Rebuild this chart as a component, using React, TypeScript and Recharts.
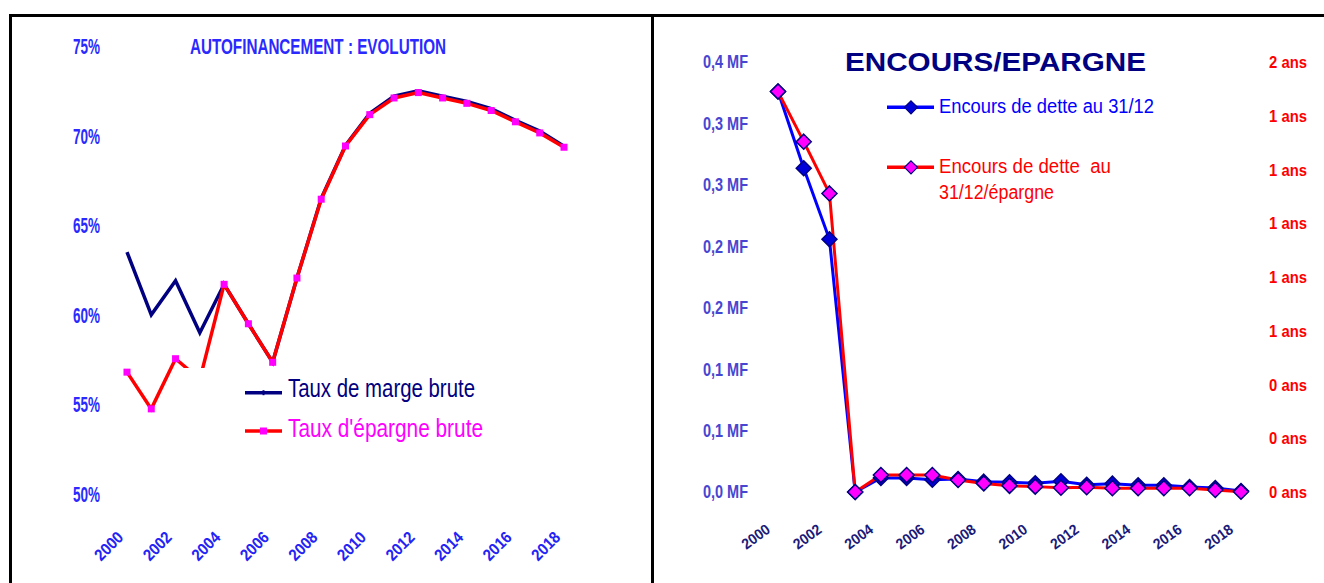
import React from 'react';
import { LineChart, Line, XAxis, YAxis, Legend } from 'recharts';

const FONT = "'Liberation Sans Narrow', 'Liberation Sans', Arial, sans-serif";

// ---- left chart: autofinancement ----
const years = [2000, 2001, 2002, 2003, 2004, 2005, 2006, 2007, 2008, 2009, 2010, 2011, 2012, 2013, 2014, 2015, 2016, 2017, 2018];
const yearTicks = [2000, 2002, 2004, 2006, 2008, 2010, 2012, 2014, 2016, 2018];
const pctTicks = [50, 55, 60, 65, 70, 75];

const tauxMargeBrute = [63.5, 60.0, 61.9, 59.0, 61.7, 59.5, 57.35, 62.05, 66.5, 69.45, 71.25, 72.2, 72.5, 72.2, 71.9, 71.5, 70.85, 70.25, 69.4];
const tauxEpargneBrute = [56.8, 54.75, 57.55, 56.4, 61.7, 59.5, 57.35, 62.05, 66.45, 69.42, 71.17, 72.1, 72.4, 72.1, 71.8, 71.4, 70.77, 70.15, 69.35];

// ---- right chart: encours / epargne ----
const encoursDette = [0.326, 0.2635, 0.2057, 0, 0.0114, 0.0114, 0.01, 0.0105, 0.0084, 0.0079, 0.0071, 0.0087, 0.0059, 0.0068, 0.0055, 0.0055, 0.0041, 0.0033, 0.0008];
const encoursSurEpargne = [1.49, 1.3035, 1.111, 0, 0.063, 0.063, 0.063, 0.045, 0.032, 0.023, 0.02, 0.016, 0.0175, 0.0138, 0.0138, 0.0138, 0.0138, 0.0074, 0.001];

const mfTicks = [0, 0.05, 0.1, 0.15, 0.2, 0.25, 0.3, 0.35];
const mfTickLabels = ['0,0 MF', '0,1 MF', '0,1 MF', '0,2 MF', '0,2 MF', '0,3 MF', '0,3 MF', '0,4 MF'];
const ansTicks = [0, 0.2, 0.4, 0.6, 0.8, 1, 1.2, 1.4, 1.6];
const ansTickLabels = ['0 ans', '0 ans', '0 ans', '1 ans', '1 ans', '1 ans', '1 ans', '1 ans', '2 ans'];

const autofinData = years.map((year, i) => ({
  year,
  marge: tauxMargeBrute[i],
  epargne: tauxEpargneBrute[i],
}));

const encoursData = years.map((year, i) => ({
  year,
  dette: encoursDette[i],
  ratio: encoursSurEpargne[i],
}));

// tick renderers
const makeYearTick = (dx: number, angle: number, size: number, len: number, color: string) => (props: any) => {
  const { x, y, payload } = props;
  return (
    <g transform={`translate(${x + dx},${y}) rotate(${angle})`}>
      <text x={0} y={0} dy="0.72em" textAnchor="end" fontSize={size} fontWeight="bold" fill={color} fontFamily={FONT}
        textLength={len} lengthAdjust="spacingAndGlyphs">{payload.value}</text>
    </g>
  );
};

const makeValueTick = (labels: (v: number) => string, anchor: 'start' | 'end', size: number, len: number, color: string) => (props: any) => {
  const { x, y, payload } = props;
  return (
    <text x={x} y={y} dy="0.36em" textAnchor={anchor} fontSize={size} fontWeight="bold" fill={color} fontFamily={FONT}
      textLength={len} lengthAdjust="spacingAndGlyphs">{labels(payload.value)}</text>
  );
};

const PctTick = makeValueTick((v) => `${v}%`, 'end', 22, 27, '#2a2aff');
const MfTick = makeValueTick((v) => mfTickLabels[mfTicks.indexOf(v)] ?? '', 'end', 18, 45, '#4646d0');
const AnsTick = makeValueTick((v) => ansTickLabels[ansTicks.indexOf(v)] ?? '', 'start', 17, 38, '#ff0000');
const LeftYearTick = makeYearTick(-11, -45, 16.5, 33, '#2323f5');
const RightYearTick = makeYearTick(-13, -36, 15, 31, '#1a1a7a');

// dots
const SquareDot = (props: any) => {
  const { cx, cy, index } = props;
  if (cx == null || cy == null) return <g key={index} />;
  return <rect key={index} x={cx - 3.5} y={cy - 3.5} width={7} height={7} fill="#ff00ff" />;
};

const makeDiamond = (fill: string, r: number) => (props: any) => {
  const { cx, cy, index } = props;
  if (cx == null || cy == null) return <g key={index} />;
  return (
    <polygon key={index} points={`${cx},${cy - r} ${cx + r},${cy} ${cx},${cy + r} ${cx - r},${cy}`}
      fill={fill} stroke="#000080" strokeWidth={1.5} />
  );
};
const BlueDiamond = makeDiamond('#0000d8', 7.5);
const PinkDiamond = makeDiamond('#ff00ff', 7.5);

// legends (rows picked by dataKey, Legend sorts its payload by name)
const leftLegendRows: Record<string, { lineY: number; textY: number; text: string; len: number }> = {
  marge: { lineY: 24.7, textY: 29.3, text: '#000080', len: 187 },
  epargne: { lineY: 63, textY: 69.3, text: '#ff00ff', len: 195 },
};

const LeftLegend = (props: any) => {
  const items = props.payload || [];
  return (
    <svg width={380} height={82} style={{ display: 'block', background: '#fff' }}>
      {items.map((it: any) => {
        const r = leftLegendRows[it.dataKey];
        if (!r) return null;
        return (
          <g key={it.dataKey}>
            <line x1={65} x2={102} y1={r.lineY} y2={r.lineY} stroke={it.color} strokeWidth={3.5} />
            {it.dataKey === 'marge'
              ? <rect x={82.5} y={r.lineY - 2.5} width={2} height={5} fill="#000080" />
              : <rect x={80} y={r.lineY - 3.5} width={7} height={7} fill="#ff00ff" />}
            <text x={108} y={r.textY} fontSize={25} fill={r.text} fontFamily={FONT}
              textLength={r.len} lengthAdjust="spacingAndGlyphs">{it.value}</text>
          </g>
        );
      })}
    </svg>
  );
};

const RightLegend = (props: any) => {
  const items = props.payload || [];
  return (
    <svg width={330} height={115} style={{ display: 'block' }}>
      {items.map((it: any) => {
        const first = it.dataKey === 'dette';
        const lineY = first ? 15.3 : 75.3;
        const fill = first ? '#0000d8' : '#ff00ff';
        const r = 6.5;
        return (
          <g key={it.dataKey}>
            <line x1={2} x2={49} y1={lineY} y2={lineY} stroke={it.color} strokeWidth={3.5} />
            <polygon points={`26,${lineY - r} ${26 + r},${lineY} 26,${lineY + r} ${26 - r},${lineY}`}
              fill={fill} stroke="#000080" strokeWidth={1.2} />
            {first ? (
              <text x={54} y={21.3} fontSize={19.5} fill="#0000ff" fontFamily={FONT}
                textLength={215} lengthAdjust="spacingAndGlyphs">{it.value}</text>
            ) : (
              <>
                <text x={54} y={81.3} fontSize={19.5} fill="#ff0000" fontFamily={FONT}
                  textLength={172} lengthAdjust="spacingAndGlyphs" xmlSpace="preserve">Encours de dette  au</text>
                <text x={54} y={107.3} fontSize={19.5} fill="#ff0000" fontFamily={FONT}
                  textLength={115} lengthAdjust="spacingAndGlyphs">31/12/épargne</text>
              </>
            )}
          </g>
        );
      })}
    </svg>
  );
};

export default function App() {
  return (
    <div style={{ position: 'absolute', left: 0, top: 0, width: 1324, height: 583, background: '#fff', overflow: 'hidden' }}>
      {/* panel frames */}
      <div style={{ position: 'absolute', left: 9, top: 14, width: 645, height: 620, border: '3px solid #000', borderBottom: 'none', boxSizing: 'border-box' }} />
      <div style={{ position: 'absolute', left: 651, top: 14, width: 700, height: 3, background: '#000' }} />

      <div style={{ position: 'absolute', left: 0, top: 0 }}>
        <LineChart width={655} height={583} data={autofinData} margin={{ top: 46, right: 91, bottom: 0, left: 0 }}>
          <XAxis dataKey="year" type="number" domain={[2000, 2018]} ticks={yearTicks} interval={0}
            height={89} axisLine={false} tickLine={false} tickMargin={30} tick={LeftYearTick} />
          <YAxis type="number" domain={[50, 75]} ticks={pctTicks} interval={0} width={127}
            axisLine={false} tickLine={false} tickMargin={21} tick={PctTick} />
          <Line dataKey="marge" name="Taux de marge brute" stroke="#000080" strokeWidth={3.5}
            dot={false} activeDot={false} isAnimationActive={false} />
          <Line dataKey="epargne" name="Taux d'épargne brute" stroke="#ff0000" strokeWidth={3.5}
            dot={SquareDot} activeDot={false} isAnimationActive={false} />
          <Legend layout="vertical" align="center" verticalAlign="middle" content={LeftLegend}
            wrapperStyle={{ left: 180, top: 368, width: 380, height: 82, bottom: 'auto', right: 'auto' }} />
        </LineChart>
      </div>

      <div style={{ position: 'absolute', left: 655, top: 0 }}>
        <LineChart width={669} height={583} data={encoursData} margin={{ top: 62, right: 0, bottom: 0, left: 0 }}>
          <XAxis dataKey="year" type="number" domain={[2000, 2018]} ticks={yearTicks} interval={0}
            height={91} axisLine={false} tickLine={false} tickMargin={25} tick={RightYearTick} />
          <YAxis yAxisId="mf" type="number" domain={[0, 0.35]} ticks={mfTicks} interval={0} width={123}
            axisLine={false} tickLine={false} tickMargin={24} tick={MfTick} />
          <YAxis yAxisId="ans" orientation="right" type="number" domain={[0, 1.6]} ticks={ansTicks} interval={0} width={83}
            axisLine={false} tickLine={false} tickMargin={22} tick={AnsTick} />
          <Line yAxisId="mf" dataKey="dette" name="Encours de dette au 31/12" stroke="#0000ff" strokeWidth={3}
            dot={BlueDiamond} activeDot={false} isAnimationActive={false} />
          <Line yAxisId="ans" dataKey="ratio" name="Encours de dette  au 31/12/épargne" stroke="#ff0000" strokeWidth={3}
            dot={PinkDiamond} activeDot={false} isAnimationActive={false} />
          <Legend layout="vertical" align="center" verticalAlign="middle" content={RightLegend}
            wrapperStyle={{ left: 230, top: 92, width: 330, height: 115, bottom: 'auto', right: 'auto' }} />
        </LineChart>
      </div>

      {/* titles */}
      <svg width={1324} height={583} style={{ position: 'absolute', left: 0, top: 0, pointerEvents: 'none' }}>
        <text x={190} y={54} fontSize={22} fontWeight="bold" fill="#2a2aff" fontFamily={FONT}
          textLength={256} lengthAdjust="spacingAndGlyphs">AUTOFINANCEMENT : EVOLUTION</text>
        <text x={845} y={70.7} fontSize={26.5} fontWeight="bold" fill="#000080" fontFamily={FONT}
          textLength={301} lengthAdjust="spacingAndGlyphs">ENCOURS/EPARGNE</text>
      </svg>
    </div>
  );
}
